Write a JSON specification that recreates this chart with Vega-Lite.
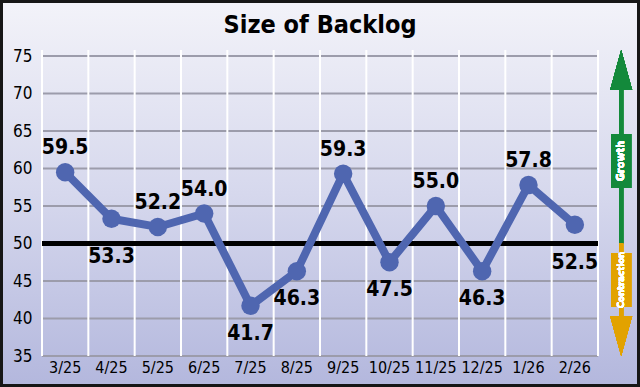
{
  "$schema": "https://vega.github.io/schema/vega-lite/v6.json",
  "width": 640,
  "height": 387,
  "autosize": {"type": "none"},
  "padding": 0,
  "background": "#d2d4ea",
  "config": {
    "view": {
      "fill": {"gradient": "linear", "x1": 0, "y1": 0, "x2": 0, "y2": 1,
        "stops": [{"offset": 0, "color": "#f3f3f9"}, {"offset": 0.5, "color": "#d6d8ed"}, {"offset": 1, "color": "#b3b7dd"}]},
      "stroke": "#161616",
      "strokeWidth": 6
    },
    "font": "DejaVu Sans Condensed, Liberation Sans, sans-serif"
  },
  "title": {
    "text": "Size of Backlog",
    "font": "DejaVu Sans Condensed, Liberation Sans, sans-serif",
    "fontSize": 25,
    "fontWeight": "bold",
    "color": "#000000",
    "anchor": "middle",
    "orient": "top",
    "offset": -38
  },
  "datasets": {
    "backlog": [
      {"month": "3/25", "value": 59.5, "pos": "above"},
      {"month": "4/25", "value": 53.3, "pos": "under"},
      {"month": "5/25", "value": 52.2, "pos": "above"},
      {"month": "6/25", "value": 54.0, "pos": "above"},
      {"month": "7/25", "value": 41.7, "pos": "below"},
      {"month": "8/25", "value": 46.3, "pos": "below"},
      {"month": "9/25", "value": 59.3, "pos": "above"},
      {"month": "10/25", "value": 47.5, "pos": "below"},
      {"month": "11/25", "value": 55.0, "pos": "above"},
      {"month": "12/25", "value": 46.3, "pos": "below"},
      {"month": "1/26", "value": 57.8, "pos": "above"},
      {"month": "2/26", "value": 52.5, "pos": "under"}
    ],
    "levels": [
      {"level": 35}, {"level": 40}, {"level": 45}, {"level": 55}, {"level": 60},
      {"level": 65}, {"level": 70}, {"level": 75}
    ]
  },
  "data": {"name": "backlog"},
  "encoding": {
    "x": {
      "field": "month",
      "type": "ordinal",
      "sort": null,
      "scale": {"type": "band", "domain": ["3/25","4/25","5/25","6/25","7/25","8/25","9/25","10/25","11/25","12/25","1/26","2/26"], "paddingInner": 0, "paddingOuter": 0.9065},
      "axis": {
        "orient": "bottom", "offset": -31, "domain": false, "ticks": false, "grid": false,
        "labelAngle": 0, "labelPadding": 3, "labelFontSize": 16, "labelFont": "DejaVu Sans Condensed, Liberation Sans, sans-serif",
        "labelColor": "#000000", "title": null
      }
    }
  },
  "layer": [
    {
      "data": {"name": "levels"},
      "mark": {"type": "rule", "color": "#9c9cab", "strokeWidth": 2},
      "encoding": {
        "x": {"datum": "3/25", "bandPosition": 0},
        "x2": {"datum": "2/26", "bandPosition": 1},
        "y": {
          "field": "level", "type": "quantitative",
          "scale": {"domain": [30.867, 82.467], "nice": false, "zero": false},
          "axis": {
            "orient": "left", "offset": -42, "values": [35,40,45,50,55,60,65,70,75],
            "domain": false, "ticks": false, "grid": false, "labelPadding": 10,
            "labelFontSize": 17, "labelFont": "DejaVu Sans Condensed, Liberation Sans, sans-serif", "labelColor": "#000000", "title": null
          }
        }
      }
    },
    {
      "mark": {"type": "rule", "color": "#ffffff", "strokeWidth": 2},
      "encoding": {
        "x": {"field": "month", "type": "ordinal", "bandPosition": 0},
        "y": {"datum": 35, "type": "quantitative"},
        "y2": {"datum": 75.8}
      }
    },
    {
      "mark": {"type": "rule", "color": "#ffffff", "strokeWidth": 2},
      "encoding": {
        "x": {"datum": "2/26", "bandPosition": 1},
        "y": {"datum": 35, "type": "quantitative"},
        "y2": {"datum": 75.8}
      }
    },
    {
      "mark": {"type": "rule", "color": "#000000", "strokeWidth": 5},
      "encoding": {
        "x": {"datum": "3/25", "bandPosition": 0},
        "x2": {"datum": "2/26", "bandPosition": 1},
        "y": {"datum": 50, "type": "quantitative"}
      }
    },
    {
      "mark": {"type": "line", "color": "#4f66b0", "strokeWidth": 8},
      "encoding": {
        "x": {"field": "month", "type": "ordinal", "bandPosition": 0.5},
        "y": {"field": "value", "type": "quantitative"}
      }
    },
    {
      "mark": {"type": "point", "shape": "circle", "filled": true, "opacity": 1, "color": "#4f66b0", "size": 340},
      "encoding": {
        "x": {"field": "month", "type": "ordinal", "bandPosition": 0.5},
        "y": {"field": "value", "type": "quantitative"}
      }
    },
    {
      "transform": [{"filter": "datum.pos === 'above'"}],
      "mark": {"type": "text", "font": "DejaVu Sans Condensed, Liberation Sans, sans-serif", "fontSize": 21, "fontWeight": "bold", "color": "#000000", "baseline": "middle", "dy": -24},
      "encoding": {
        "x": {"field": "month", "type": "ordinal", "bandPosition": 0.5},
        "y": {"field": "value", "type": "quantitative"},
        "text": {"field": "value", "type": "quantitative", "format": ".1f"}
      }
    },
    {
      "transform": [{"filter": "datum.pos === 'below'"}],
      "mark": {"type": "text", "font": "DejaVu Sans Condensed, Liberation Sans, sans-serif", "fontSize": 21, "fontWeight": "bold", "color": "#000000", "baseline": "middle", "dy": 28},
      "encoding": {
        "x": {"field": "month", "type": "ordinal", "bandPosition": 0.5},
        "y": {"field": "value", "type": "quantitative"},
        "text": {"field": "value", "type": "quantitative", "format": ".1f"}
      }
    },
    {
      "transform": [{"filter": "datum.pos === 'under'"}],
      "mark": {"type": "text", "font": "DejaVu Sans Condensed, Liberation Sans, sans-serif", "fontSize": 21, "fontWeight": "bold", "color": "#000000", "baseline": "middle", "dy": 38},
      "encoding": {
        "x": {"field": "month", "type": "ordinal", "bandPosition": 0.5},
        "y": {"field": "value", "type": "quantitative"},
        "text": {"field": "value", "type": "quantitative", "format": ".1f"}
      }
    },
    {
      "mark": {"type": "rule", "color": "#13893b", "strokeWidth": 4},
      "encoding": {
        "x": {"datum": "2/26", "bandPosition": 1.5},
        "y": {"datum": 50, "type": "quantitative"},
        "y2": {"datum": 71}
      }
    },
    {
      "mark": {"type": "rule", "color": "#e2a200", "strokeWidth": 4},
      "encoding": {
        "x": {"datum": "2/26", "bandPosition": 1.5},
        "y": {"datum": 50, "type": "quantitative"},
        "y2": {"datum": 39}
      }
    },
    {
      "mark": {"type": "point", "filled": true, "opacity": 1, "color": "#13893b", "size": 1600, "shape": "M-0.55,1L0,-1L0.55,1Z"},
      "encoding": {
        "x": {"datum": "2/26", "bandPosition": 1.5},
        "y": {"datum": 73.13, "type": "quantitative"}
      }
    },
    {
      "mark": {"type": "point", "filled": true, "opacity": 1, "color": "#e2a200", "size": 1600, "shape": "M-0.55,-1L0.55,-1L0,1Z"},
      "encoding": {
        "x": {"datum": "2/26", "bandPosition": 1.5},
        "y": {"datum": 37.67, "type": "quantitative"}
      }
    },
    {
      "mark": {"type": "point", "filled": true, "opacity": 1, "color": "#13893b", "size": 2916, "shape": "M-0.37,-1L0.37,-1L0.37,1L-0.37,1Z"},
      "encoding": {
        "x": {"datum": "2/26", "bandPosition": 1.5},
        "y": {"datum": 61, "type": "quantitative"}
      }
    },
    {
      "mark": {"type": "point", "filled": true, "opacity": 1, "color": "#e2a200", "size": 2916, "shape": "M-0.37,-1L0.37,-1L0.37,1L-0.37,1Z"},
      "encoding": {
        "x": {"datum": "2/26", "bandPosition": 1.5},
        "y": {"datum": 45.13, "type": "quantitative"}
      }
    },
    {
      "mark": {"type": "text", "text": "Growth", "angle": 270, "font": "DejaVu Sans Condensed, Liberation Sans, sans-serif", "fontSize": 11, "fontWeight": "bold", "color": "#ffffff", "align": "center", "baseline": "middle"},
      "encoding": {
        "x": {"datum": "2/26", "bandPosition": 1.5},
        "y": {"datum": 61, "type": "quantitative"}
      }
    },
    {
      "mark": {"type": "text", "text": "Contraction", "angle": 270, "font": "DejaVu Sans Condensed, Liberation Sans, sans-serif", "fontSize": 9.5, "fontWeight": "bold", "color": "#ffffff", "align": "center", "baseline": "middle"},
      "encoding": {
        "x": {"datum": "2/26", "bandPosition": 1.5},
        "y": {"datum": 45.13, "type": "quantitative"}
      }
    }
  ]
}
